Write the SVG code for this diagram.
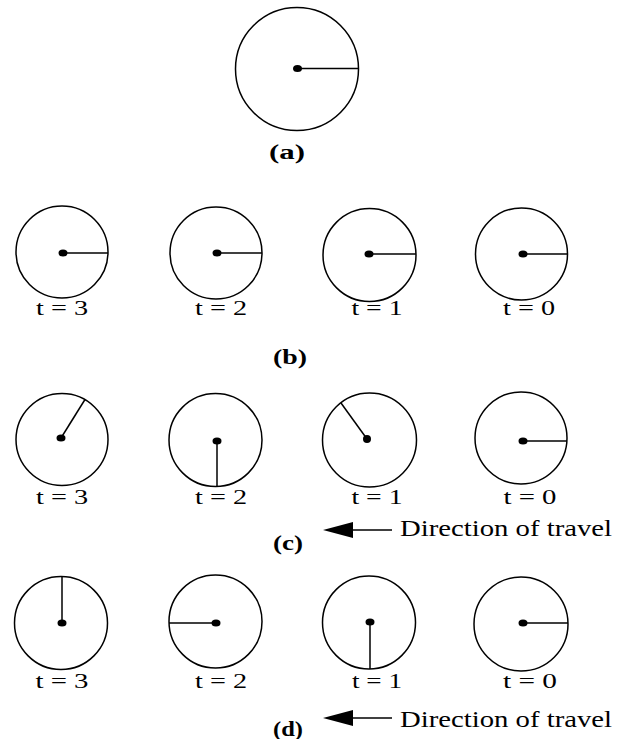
<svg xmlns="http://www.w3.org/2000/svg" width="617" height="739" viewBox="0 0 617 739">
<style>
.c{fill:none;stroke:#000;stroke-width:1.5}
.r{stroke:#000;stroke-width:1.5;fill:none}
.d{fill:#000}
.t{font-family:"Liberation Serif","Times New Roman",serif;font-size:20px;fill:#000;text-anchor:middle}
.p{font-family:"Liberation Serif","Times New Roman",serif;font-size:20px;fill:#000;text-anchor:middle}
.dir{font-family:"Liberation Serif","Times New Roman",serif;font-size:23px;fill:#000}
</style>
<rect width="617" height="739" fill="#fff"/>
<g id="a-wheel"><circle class="c" cx="297" cy="69" r="61.5"/><line class="r" x1="298" y1="68.5" x2="358.5" y2="68.5"/><ellipse class="d" cx="297.5" cy="68.5" rx="4.5" ry="3.5"/></g>
<text class="p" x="287" y="159" font-weight="bold" textLength="36" lengthAdjust="spacingAndGlyphs">(a)</text>

<g id="b3"><circle class="c" cx="62" cy="252" r="46"/><line class="r" x1="63" y1="253" x2="108" y2="253"/><ellipse class="d" cx="63" cy="253" rx="4.5" ry="3.5"/></g>
<g id="b2"><circle class="c" cx="216" cy="253" r="46"/><line class="r" x1="217" y1="253" x2="262" y2="253"/><ellipse class="d" cx="217" cy="253" rx="4.5" ry="3.5"/></g>
<g id="b1"><circle class="c" cx="369.5" cy="255" r="46.5"/><line class="r" x1="369" y1="254" x2="416" y2="254"/><ellipse class="d" cx="369" cy="254" rx="4.5" ry="3.5"/></g>
<g id="b0"><circle class="c" cx="521.5" cy="254" r="46"/><line class="r" x1="523" y1="254" x2="567.5" y2="254"/><ellipse class="d" cx="523" cy="254" rx="4.5" ry="3.5"/></g>
<g class="t">
<text x="62" y="315" textLength="52" lengthAdjust="spacingAndGlyphs">t = 3</text>
<text x="221" y="315" textLength="52" lengthAdjust="spacingAndGlyphs">t = 2</text>
<text x="377" y="315" textLength="51" lengthAdjust="spacingAndGlyphs">t = 1</text>
<text x="529" y="315" textLength="52" lengthAdjust="spacingAndGlyphs">t = 0</text>
</g>
<text class="p" x="290" y="364" font-weight="bold" textLength="34" lengthAdjust="spacingAndGlyphs">(b)</text>

<g id="c3"><circle class="c" cx="62" cy="439.5" r="46"/><line class="r" x1="61" y1="438" x2="85" y2="399.5"/><ellipse class="d" cx="61" cy="438" rx="4.5" ry="3.5"/></g>
<g id="c2"><circle class="c" cx="215.5" cy="440" r="46.5"/><line class="r" x1="217" y1="441" x2="217" y2="486.5"/><ellipse class="d" cx="217" cy="441" rx="4.5" ry="3.5"/></g>
<g id="c1"><circle class="c" cx="369.5" cy="440" r="47"/><line class="r" x1="367" y1="439" x2="341" y2="403"/><ellipse class="d" cx="367" cy="439" rx="4" ry="4"/></g>
<g id="c0"><circle class="c" cx="521" cy="438" r="46"/><line class="r" x1="523" y1="441" x2="567" y2="441"/><ellipse class="d" cx="523" cy="441" rx="4.5" ry="3.5"/></g>
<g class="t">
<text x="62" y="504" textLength="52" lengthAdjust="spacingAndGlyphs">t = 3</text>
<text x="221" y="504" textLength="52" lengthAdjust="spacingAndGlyphs">t = 2</text>
<text x="377" y="504" textLength="51" lengthAdjust="spacingAndGlyphs">t = 1</text>
<text x="530" y="504" textLength="53" lengthAdjust="spacingAndGlyphs">t = 0</text>
</g>
<text class="p" x="288" y="550" font-weight="bold" textLength="30" lengthAdjust="spacingAndGlyphs">(c)</text>

<g id="d3"><circle class="c" cx="61" cy="623" r="46.5"/><line class="r" x1="62" y1="623" x2="62" y2="576.5"/><ellipse class="d" cx="62" cy="623" rx="4.5" ry="3.5"/></g>
<g id="d2"><circle class="c" cx="215.5" cy="621.5" r="46.5"/><line class="r" x1="216" y1="623" x2="169" y2="623"/><ellipse class="d" cx="216" cy="623" rx="4.5" ry="3.5"/></g>
<g id="d1"><circle class="c" cx="369" cy="622.5" r="46.5"/><line class="r" x1="370" y1="622" x2="370" y2="669"/><ellipse class="d" cx="370" cy="622" rx="4.5" ry="3.5"/></g>
<g id="d0"><circle class="c" cx="521" cy="624" r="47"/><line class="r" x1="523" y1="623" x2="568" y2="623"/><ellipse class="d" cx="523" cy="623" rx="4.5" ry="3.5"/></g>
<g class="t">
<text x="62" y="688" textLength="53" lengthAdjust="spacingAndGlyphs">t = 3</text>
<text x="221" y="688" textLength="52" lengthAdjust="spacingAndGlyphs">t = 2</text>
<text x="377" y="688" textLength="50" lengthAdjust="spacingAndGlyphs">t = 1</text>
<text x="530" y="688" textLength="54" lengthAdjust="spacingAndGlyphs">t = 0</text>
</g>
<text class="p" x="288" y="736" font-weight="bold" textLength="30" lengthAdjust="spacingAndGlyphs">(d)</text>

<g id="connectors">
<line class="r" x1="352" y1="530" x2="392" y2="530"/>
<polygon class="d" points="323,530 353,522 353,538"/>
<line class="r" x1="352" y1="718" x2="392" y2="718"/>
<polygon class="d" points="323,718 353,710 353,726"/>
</g>
<text class="dir" x="400" y="536" textLength="212" lengthAdjust="spacingAndGlyphs">Direction of travel</text>
<text class="dir" x="400" y="727" textLength="212" lengthAdjust="spacingAndGlyphs">Direction of travel</text>
</svg>
